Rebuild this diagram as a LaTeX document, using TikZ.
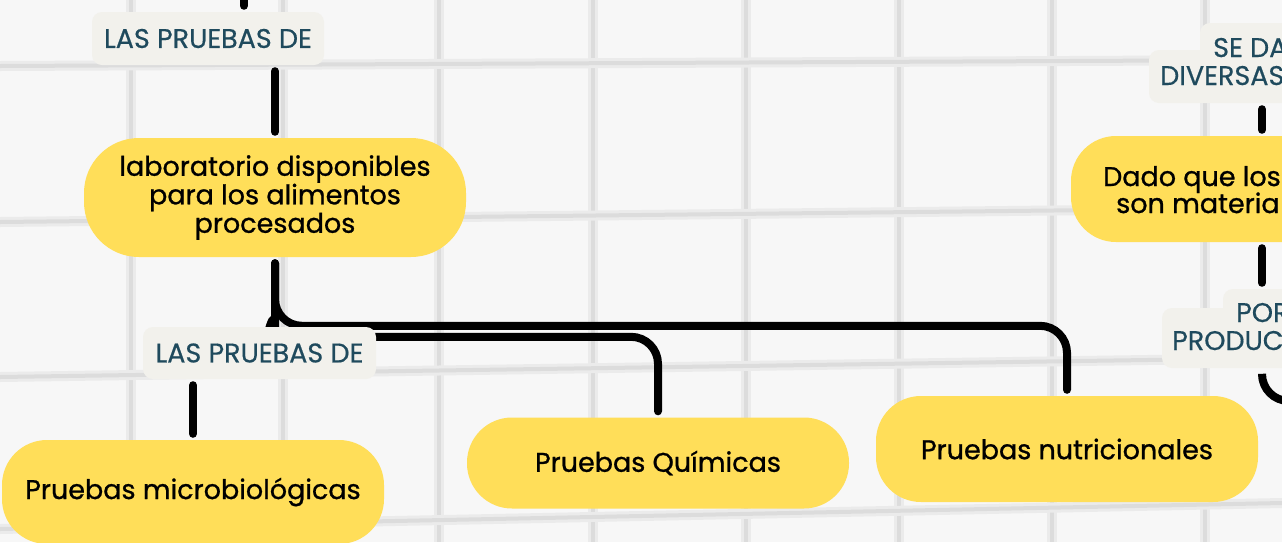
\documentclass[tikz,border=0pt]{standalone}
\usepackage{fontspec}
\setmainfont{Poppins}
\newfontfamily\topicfont{Poppins}[FakeBold=0.9]
\newfontfamily\tagfont{Poppins}[FakeBold=0.5]
\usetikzlibrary{positioning,calc}
\definecolor{topicyellow}{HTML}{FFDE59}
\definecolor{tagpaper}{HTML}{F2F1EC}
\definecolor{tagink}{HTML}{1F4A5D}
\definecolor{sheet}{HTML}{F7F7F7}
\definecolor{gridhalo}{HTML}{EBEBEB}
\definecolor{gridline}{HTML}{DCDCDC}
\pgfdeclarelayer{paper}
\pgfdeclarelayer{wires}
\pgfsetlayers{paper,wires,main}
\tikzstyle{topic}=[fill=topicyellow,rounded corners=45pt,minimum width=382pt,inner sep=0pt,align=center,font=\topicfont\fontsize{27}{28.5}\selectfont]
\tikzstyle{topicword}=[inner sep=0pt,anchor=base west,font=\topicfont\fontsize{27}{28}\selectfont]
\tikzstyle{tag}=[fill=tagpaper,rounded corners=10pt,inner sep=0pt,text=tagink,font=\tagfont\fontsize{27}{27}\selectfont]
\tikzstyle{tagtext}=[inner sep=0pt,anchor=base west,text=tagink,font=\tagfont\fontsize{27}{27}\selectfont]
\tikzstyle{link}=[line width=8pt,line cap=round,rounded corners=27pt,shorten <=6pt,shorten >=6pt]
\tikzstyle{gridhaze}=[gridhalo,line width=10pt]
\tikzstyle{gridstroke}=[gridline,line width=4pt]

\begin{document}
\begin{tikzpicture}[x=1pt,y=-1pt]
\useasboundingbox (0,0) rectangle (1282,542);
% paper sheet with its squares
\begin{pgfonlayer}{paper}
	\fill[sheet] (0,0) rectangle (1282,542);
	\foreach \gx in {131,283,439,593,746,899,1052,1205}{
		\draw[gridhaze] (\gx,0) -- (\gx,542);
		\draw[gridstroke] (\gx,0) -- (\gx,542);
	}
	\foreach \ya/\yb in {66/60,222/208,377/358,529/503}{
		\draw[gridhaze] (0,\ya) -- (1282,\yb);
		\draw[gridstroke] (0,\ya) -- (1282,\yb);
	}
\end{pgfonlayer}

% left tree
\node[tag,minimum width=232pt,minimum height=53pt] (tagtop) at (208,38.5) {LAS PRUEBAS DE};
\node[topic,rounded corners=55pt,minimum height=119pt] (lab) at (275,197.5) {laboratorio disponibles\\para los alimentos\\procesados};
\node[tag,minimum width=233pt,minimum height=52pt] (tagmid) at (259.5,353) {LAS PRUEBAS DE};
\node[topic,minimum height=104pt] (micro) at (193,492) {Pruebas microbiológicas};
\node[topic,minimum height=91pt] (quim) at (658,463) {Pruebas Químicas};
\node[topic,minimum height=106pt] (nutri) at (1067,449) {Pruebas nutricionales};

% right column, cut by the edge
\node[tag,minimum width=124pt,minimum height=37pt] (tagda) at (1262,41.5) {};
\node[tag,minimum width=226pt,minimum height=53pt] (tagdiv) at (1262,76.5) {};
\node[tagtext] at (1213,57) {SE DA};
\node[tagtext] at (1160,85) {DIVERSAS};
\node[topic,minimum height=106pt] (dado) at (1262,189) {};
\node[topicword] at (1103,186) {Dado que los};
\node[topicword] at (1116,213) {son materia};
\node[tag,minimum width=78pt,minimum height=34pt] (tagpor) at (1262,306) {};
\node[tag,minimum width=200pt,minimum height=60pt] (tagprod) at (1262,338) {};
\node[tagtext] at (1236,322) {POR};
\node[tagtext] at (1172,350) {PRODUC};

% connectors
\begin{pgfonlayer}{wires}
	\coordinate (fromabove) at (244,-12);
	\coordinate (offright) at (1320,401);
	\draw[link] (fromabove) -- (fromabove |- tagtop.north);
	\draw[link] (tagtop.south -| lab.north) -- (lab.north);
	\draw[link] (lab.south) |- ([yshift=70pt]nutri.north) -- (nutri.north);
	\draw[link,shorten >=0pt] (lab.south) -- ++(0,46) to[out=-90,in=75] ++(-6,26);
	\draw[link,shorten <=0pt] ([xshift=-30pt,yshift=-10pt]tagmid.north east) -| (quim.north);
	\draw[link] (tagmid.south -| micro.north) -- (micro.north);
	\draw[link] (tagdiv.south) -- (dado.north);
	\draw[link] (dado.south) -- (tagpor.north);
	\draw[link,shorten >=0pt] (tagprod.south) |- (offright);
\end{pgfonlayer}
\end{tikzpicture}
\end{document}
